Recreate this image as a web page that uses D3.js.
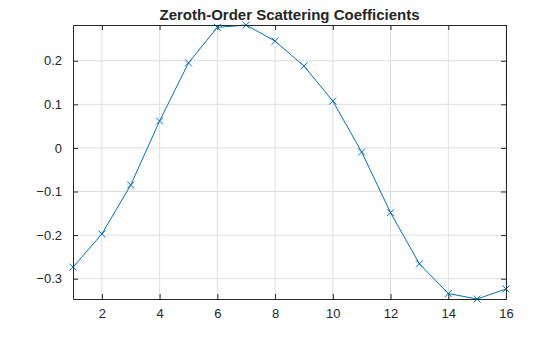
<!DOCTYPE html>
<html>
<head>
<meta charset="utf-8">
<script src="https://cdn.jsdelivr.net/npm/d3@7"></script>
<style>
  body { margin: 0; background: #fff; }
  svg text { font-family: "Liberation Sans", Arial, sans-serif; fill: #262626; }
</style>
</head>
<body>
<div id="chart"></div>
<script>
const xValues = [1, 2, 3, 4, 5, 6, 7, 8, 9, 10, 11, 12, 13, 14, 15, 16];
const yValues = [-0.2735, -0.1975, -0.085, 0.0617, 0.195, 0.2766, 0.282, 0.245,
  0.188, 0.1076, -0.0094, -0.1486, -0.266, -0.334, -0.3466, -0.3236];
const xTicks = [2, 4, 6, 8, 10, 12, 14, 16];
const yTicks = [-0.3, -0.2, -0.1, 0, 0.1, 0.2];
const title = 'Zeroth-Order Scattering Coefficients';

const width = 560, height = 337;
const margin = { top: 25, right: 54, bottom: 38, left: 73 };
const w = width - margin.left - margin.right,
  h = height - margin.top - margin.bottom;

const svg = d3.select('#chart').append('svg')
  .attr('width', width)
  .attr('height', height);

const g = svg.append('g')
  .attr('transform', `translate(${margin.left},${margin.top})`);

const x = d3.scaleLinear().domain(d3.extent(xValues)).range([0, w]);
const y = d3.scaleLinear().domain(d3.extent(yValues)).range([h, 0]);

// grid
g.append('g').selectAll('line').data(xTicks).join('line')
  .attr('x1', (d) => x(d)).attr('x2', (d) => x(d))
  .attr('y1', 0).attr('y2', h)
  .attr('stroke', '#dedede').attr('stroke-width', 1);
g.append('g').selectAll('line').data(yTicks).join('line')
  .attr('x1', 0).attr('x2', w)
  .attr('y1', (d) => y(d)).attr('y2', (d) => y(d))
  .attr('stroke', '#dedede').attr('stroke-width', 1);

// line + markers
const line = d3.line()
  .x((d, i) => x(xValues[i]))
  .y((d) => y(d));

g.append('path')
  .datum(yValues)
  .attr('fill', 'none')
  .attr('stroke', '#0072BD')
  .attr('stroke-width', 1)
  .attr('d', line);

const m = 3.5;
g.append('g').selectAll('path').data(yValues).join('path')
  .attr('transform', (d, i) => `translate(${x(xValues[i])},${y(d)})`)
  .attr('d', `M${-m},${-m}L${m},${m}M${-m},${m}L${m},${-m}`)
  .attr('stroke', '#0072BD')
  .attr('stroke-width', 1)
  .attr('fill', 'none');

// axes
const fmtY = (d) => (d === 0 ? '0' : d3.format('.1f')(d));
const tickLen = 5;

const xAxis = g.append('g')
  .attr('transform', `translate(0,${h})`)
  .call(d3.axisBottom(x).tickValues(xTicks).tickSizeInner(-tickLen).tickSizeOuter(0).tickPadding(10));
const xAxisTop = g.append('g')
  .call(d3.axisTop(x).tickValues(xTicks).tickSizeInner(-tickLen).tickSizeOuter(0).tickFormat(''));
const yAxis = g.append('g')
  .call(d3.axisLeft(y).tickValues(yTicks).tickFormat(fmtY).tickSizeInner(-tickLen).tickSizeOuter(0).tickPadding(11));
const yAxisRight = g.append('g')
  .attr('transform', `translate(${w},0)`)
  .call(d3.axisRight(y).tickValues(yTicks).tickSizeInner(-tickLen).tickSizeOuter(0).tickFormat(''));

[xAxis, xAxisTop, yAxis, yAxisRight].forEach((a) => {
  a.select('.domain').attr('stroke', '#262626');
  a.selectAll('.tick line').attr('stroke', '#262626');
  a.selectAll('.tick text')
    .attr('font-size', 13)
    .attr('font-family', '"Liberation Sans", Arial, sans-serif')
    .attr('fill', '#262626');
});

svg.append('text')
  .attr('x', margin.left + w / 2)
  .attr('y', 20)
  .attr('text-anchor', 'middle')
  .attr('font-size', 15)
  .attr('font-weight', 'bold')
  .text(title);
</script>
</body>
</html>
